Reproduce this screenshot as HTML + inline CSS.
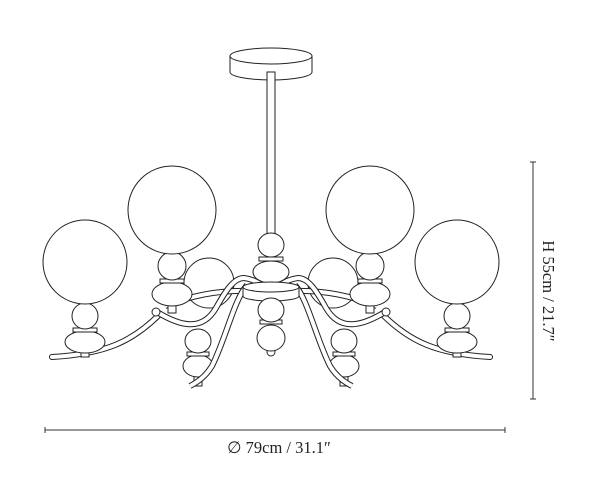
<!DOCTYPE html>
<html><head><meta charset="utf-8"><style>
html,body{margin:0;padding:0;background:#fff;}
svg{display:block;}
</style></head><body>
<svg width="600" height="488" viewBox="0 0 600 488" xmlns="http://www.w3.org/2000/svg">
<defs>
<g id="half" fill="#fff" stroke="#222" stroke-width="1">
  <circle cx="209" cy="283" r="25"/>
  <path d="M165,306 C195,294 225,290 250,291" fill="none" stroke="#222" stroke-width="6"/>
  <path d="M165,306 C195,294 225,290 250,291" fill="none" stroke="#fff" stroke-width="4"/>
  <rect x="194" y="376" width="8" height="10"/>
  <ellipse cx="198" cy="366" rx="15" ry="11"/>
  <rect x="187" y="352" width="22" height="4"/>
  <ellipse cx="198" cy="341" rx="13" ry="12"/>
  <path d="M247,285 C234,300 226,338 212,366 C206,376 198,382 190,386" fill="none" stroke="#222" stroke-width="6"/>
  <path d="M247,285 C234,300 226,338 212,366 C206,376 198,382 190,386" fill="none" stroke="#fff" stroke-width="4"/>
  <path d="M160,314 C132,342 105,354 52,357" fill="none" stroke="#222" stroke-width="6" stroke-linecap="round"/>
  <path d="M160,314 C132,342 105,354 52,357" fill="none" stroke="#fff" stroke-width="4" stroke-linecap="round"/>
  <path d="M157,312 C180,326 202,332 216,308 C226,290 234,278 244,278 C252,279 258,282 263,286" fill="none" stroke="#222" stroke-width="6" stroke-linecap="round"/>
  <path d="M157,312 C180,326 202,332 216,308 C226,290 234,278 244,278 C252,279 258,282 263,286" fill="none" stroke="#fff" stroke-width="4" stroke-linecap="round"/>
  <circle cx="156" cy="312" r="4"/>
  <rect x="168" y="304" width="8" height="9"/>
  <ellipse cx="172" cy="294" rx="20" ry="12"/>
  <rect x="160" y="279" width="24" height="4"/>
  <ellipse cx="172" cy="266" rx="14" ry="14"/>
  <circle cx="172" cy="210" r="44"/>
  <rect x="81" y="351" width="8" height="6"/>
  <ellipse cx="85" cy="342" rx="20" ry="11"/>
  <rect x="73" y="328" width="24" height="4"/>
  <ellipse cx="85" cy="316" rx="13" ry="13"/>
  <circle cx="85" cy="262" r="42"/>
</g>
</defs>
<g fill="#fff" stroke="#222" stroke-width="1">
  <path d="M230,56 L230,72 A41,8 0 0 0 312,72 L312,56"/>
  <ellipse cx="271" cy="56" rx="41" ry="8"/>
  <rect x="267" y="72" width="8" height="163"/>
</g>
<use href="#half"/>
<use href="#half" transform="translate(542,0) scale(-1,1)"/>
<g fill="#fff" stroke="#222" stroke-width="1">
  <ellipse cx="271" cy="272" rx="18" ry="11"/>
  <rect x="259" y="257" width="24" height="4"/>
  <ellipse cx="271" cy="245" rx="13" ry="12"/>
  <path d="M243,287 L243,296 A28,5 0 0 0 299,296 L299,287"/>
  <ellipse cx="271" cy="287" rx="28" ry="5"/>
  <circle cx="271" cy="352" r="4"/>
  <ellipse cx="271" cy="338" rx="14" ry="13"/>
  <rect x="260" y="320" width="22" height="4"/>
  <ellipse cx="271" cy="310" rx="13" ry="12"/>
</g>
<g stroke="#333" stroke-width="1">
  <line x1="45" y1="430" x2="505" y2="430"/>
  <line x1="45" y1="427" x2="45" y2="433"/>
  <line x1="505" y1="427" x2="505" y2="433"/>
  <line x1="533" y1="162" x2="533" y2="399"/>
  <line x1="530" y1="162" x2="536" y2="162"/>
  <line x1="530" y1="399" x2="536" y2="399"/>
</g>
<text x="279" y="453" text-anchor="middle" font-family="Liberation Serif, serif" font-size="16.5" fill="#222">∅ 79cm / 31.1″</text>
<text transform="translate(543,291) rotate(90)" text-anchor="middle" font-family="Liberation Serif, serif" font-size="16.5" fill="#222">H 55cm / 21.7″</text>
</svg>
</body></html>
